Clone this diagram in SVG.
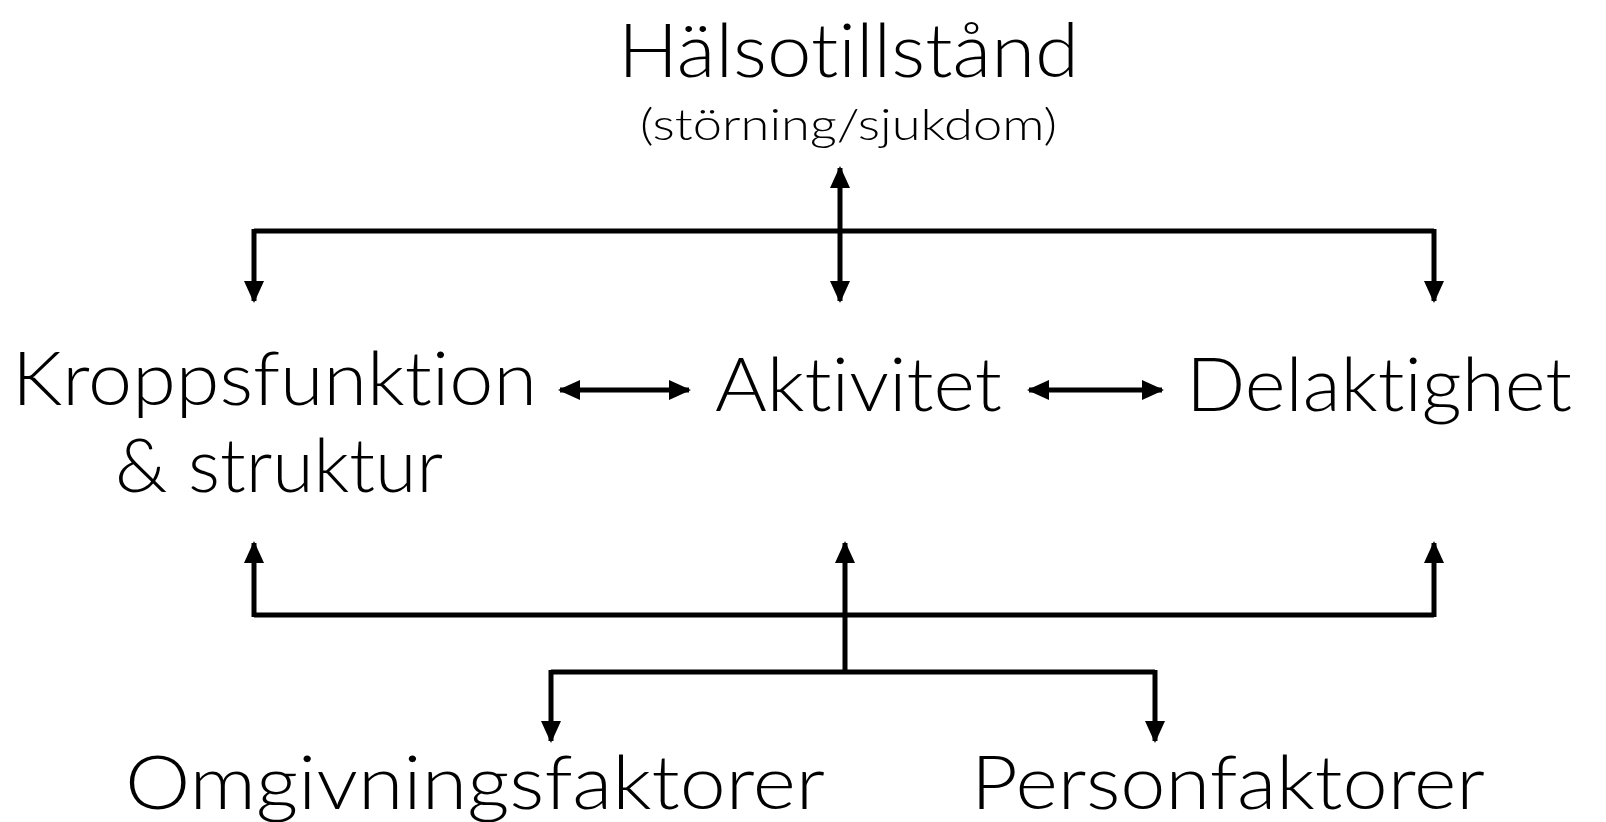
<svg xmlns="http://www.w3.org/2000/svg" width="1606" height="822" viewBox="0 0 1606 822">
<style>
text{font-family:Lato,"Liberation Sans",Arial,sans-serif;font-weight:300;fill:#000;font-variant-ligatures:none;font-feature-settings:"liga" 0,"clig" 0}
.big{font-size:74px}
.small{font-size:44px}
.c{fill:none;stroke:#000;stroke-width:5}
</style>
<defs>
<marker id="ah" markerUnits="userSpaceOnUse" markerWidth="22" markerHeight="20" viewBox="0 0 22 20" refX="20" refY="10" orient="auto-start-reverse">
<path d="M0,0 L22,10 L0,20 Z" fill="#000"/>
</marker>
</defs>
<rect width="1606" height="822" fill="#fff"/>
<g id="halsotillstand">
<text class="big" x="618" y="77" textLength="461" lengthAdjust="spacingAndGlyphs">Hälsotillstånd</text>
<text class="small" x="640" y="140" textLength="417" lengthAdjust="spacingAndGlyphs">(störning/sjukdom)</text>
</g>
<g id="kroppsfunktion">
<text class="big" x="12" y="405" textLength="525" lengthAdjust="spacingAndGlyphs">Kroppsfunktion</text>
<text class="big" x="115" y="492" textLength="328" lengthAdjust="spacingAndGlyphs">&amp; struktur</text>
</g>
<g id="aktivitet">
<text class="big" x="715" y="411" textLength="287" lengthAdjust="spacingAndGlyphs">Aktivitet</text>
</g>
<g id="delaktighet">
<text class="big" x="1186" y="411" textLength="386" lengthAdjust="spacingAndGlyphs">Delaktighet</text>
</g>
<g id="omgivningsfaktorer">
<text class="big" x="125" y="809" textLength="700" lengthAdjust="spacingAndGlyphs">Omgivningsfaktorer</text>
</g>
<g id="personfaktorer">
<text class="big" x="971" y="809" textLength="514" lengthAdjust="spacingAndGlyphs">Personfaktorer</text>
</g>
<g id="connectors">
<path class="c" d="M254,231 H1434"/>
<path class="c" d="M254,229 V301" marker-end="url(#ah)"/>
<path class="c" d="M1434,229 V301" marker-end="url(#ah)"/>
<path class="c" d="M840,168 V301" marker-start="url(#ah)" marker-end="url(#ah)"/>
<path class="c" d="M560,390 H689" marker-start="url(#ah)" marker-end="url(#ah)"/>
<path class="c" d="M1029,390 H1162" marker-start="url(#ah)" marker-end="url(#ah)"/>
<path class="c" d="M254,615 H1434"/>
<path class="c" d="M254,617 V543" marker-end="url(#ah)"/>
<path class="c" d="M1434,617 V543" marker-end="url(#ah)"/>
<path class="c" d="M845,672 V543" marker-end="url(#ah)"/>
<path class="c" d="M551,672 H1155"/>
<path class="c" d="M551,670 V741" marker-end="url(#ah)"/>
<path class="c" d="M1155,670 V741" marker-end="url(#ah)"/>
</g>
</svg>
